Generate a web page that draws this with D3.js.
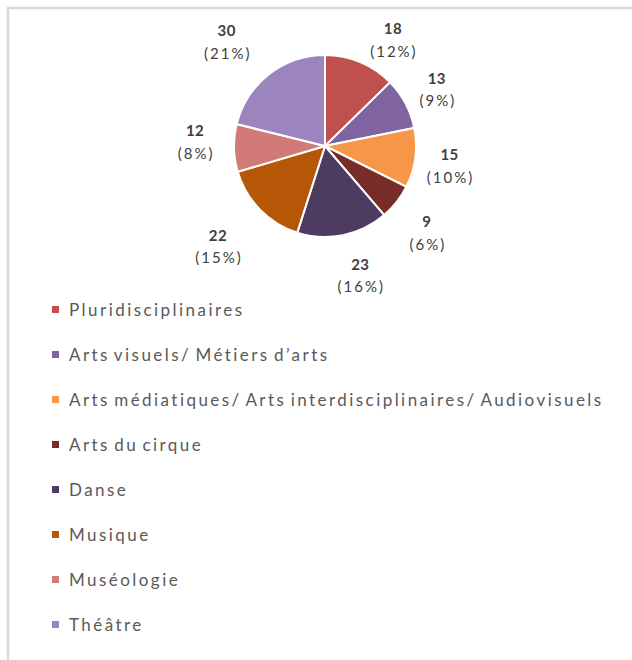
<!DOCTYPE html>
<html><head><meta charset="utf-8">
<script src="https://cdn.jsdelivr.net/npm/d3@7"></script>
<style>body{margin:0;background:#fff}svg{display:block}</style>
</head><body>
<script>
const categories = ["Pluridisciplinaires","Arts visuels/ Métiers d’arts","Arts médiatiques/ Arts interdisciplinaires/ Audiovisuels","Arts du cirque","Danse","Musique","Muséologie","Théâtre"];
const values = [18,13,15,9,23,22,12,30];
const pctLabels = ["12%","9%","10%","6%","16%","15%","8%","21%"];
const colors = ["#C0504D","#8064A2","#F79646","#772C2A","#4D3B62","#B65708","#D27A77","#9C84BE"];
// layout tweaks for label placement (angle offset in degrees, radius)
const labelAngleShift = [9.5,0.5,1,2,-4,1.5,3.5,-5];
const labelRadius = [127,126,126,133,133,146,130,144];

const W=632,H=660, cx=325, cy=146, R=91;
const svg=d3.select("body").append("svg").attr("width",W).attr("height",H);
svg.append("path").attr("d",`M8,${H} L8,8 L${W},8`).attr("fill","none").attr("stroke","#d9d9d9").attr("stroke-width",2.5);

const pie=d3.pie().sort(null).value(d=>d)(values);
const arc=d3.arc().innerRadius(0).outerRadius(R);
const g=svg.append("g").attr("transform",`translate(${cx},${cy})`);
g.selectAll("path").data(pie).join("path").attr("d",arc)
 .attr("fill",(d,i)=>colors[i]).attr("stroke","#fff").attr("stroke-width",2);

const lab=g.selectAll("text.lbl").data(pie).join("text").attr("class","lbl")
 .attr("text-anchor","middle").attr("font-family","Lato, 'Open Sans', sans-serif").attr("fill","#404040").attr("font-size",15)
 .attr("transform",(d,i)=>{const a=(d.startAngle+d.endAngle)/2+labelAngleShift[i]*Math.PI/180;const r=labelRadius[i];return `translate(${r*Math.sin(a)},${-r*Math.cos(a)})`;});
lab.append("tspan").attr("x",0).attr("dy","-0.3em").attr("font-weight","bold").attr("letter-spacing",0.5).text((d,i)=>values[i]);
lab.append("tspan").attr("x",1).attr("dy","1.5em").attr("letter-spacing",2).text((d,i)=>"("+pctLabels[i]+")");

const y=d3.scalePoint().domain(categories).range([310,625]);
const leg=svg.append("g").selectAll("g").data(categories).join("g").attr("transform",d=>`translate(0,${y(d)})`);
leg.append("rect").attr("x",52).attr("y",-4).attr("width",7).attr("height",7).attr("fill",(d,i)=>colors[i]);
leg.append("text").attr("x",69).attr("y",0).attr("dy","0.35em").attr("font-family","Lato, 'Open Sans', sans-serif")
 .attr("font-size",17).attr("letter-spacing",2.45).attr("word-spacing",-2.5).attr("fill","#595959").text(d=>d);
</script>
</body></html>
